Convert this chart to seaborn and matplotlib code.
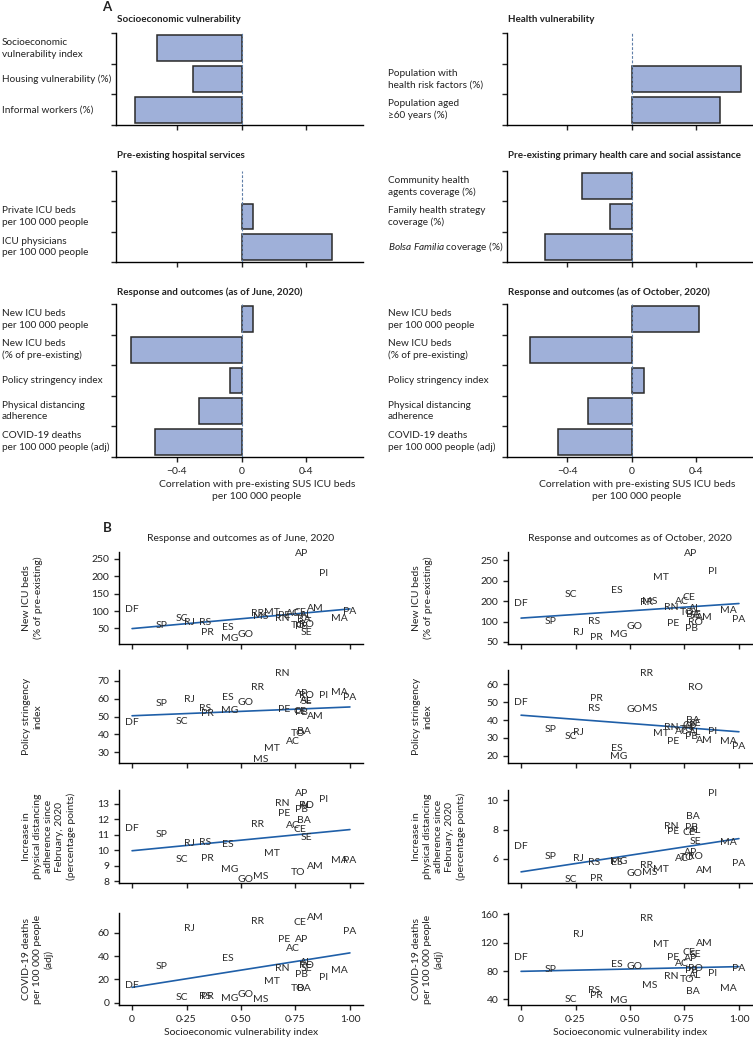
import numpy as np
import pandas as pd
import matplotlib
matplotlib.use("Agg")
import matplotlib.pyplot as plt
import matplotlib.transforms as mtransforms
import seaborn as sns

# ---------------- Panel A data ----------------
socio_labels = ["Socioeconomic\nvulnerability index", "Housing vulnerability (%)", "Informal workers (%)"]
socio_values = [-0.52, -0.30, -0.66]
health_labels = ["", "Population with\nhealth risk factors (%)", "Population aged\n≥60 years (%)"]
health_values = [np.nan, 0.68, 0.55]
hosp_labels = ["", "Private ICU beds\nper 100 000 people", "ICU physicians\nper 100 000 people"]
hosp_values = [np.nan, 0.07, 0.56]
phc_labels = ["Community health\nagents coverage (%)", "Family health strategy\ncoverage (%)",
              r"$\it{Bolsa\ Familia}$ coverage (%)"]
phc_values = [-0.31, -0.135, -0.54]
resp_labels = ["New ICU beds\nper 100 000 people", "New ICU beds\n(% of pre-existing)",
               "Policy stringency index", "Physical distancing\nadherence",
               "COVID-19 deaths\nper 100 000 people (adj)"]
june_values = [0.07, -0.68, -0.07, -0.265, -0.535]
oct_values = [0.42, -0.63, 0.08, -0.27, -0.455]
bar_xticks = [-0.4, 0.0, 0.4]
bar_xticklabels = ["\u22120·4", "0", "0·4"]

# ---------------- Panel B data ----------------
states = ["AC", "AL", "AM", "AP", "BA", "CE", "DF", "ES", "GO", "MA", "MG", "MS", "MT", "PA",
          "PB", "PE", "PI", "PR", "RJ", "RN", "RO", "RR", "RS", "SC", "SE", "SP", "TO"]
svi = [0.74, 0.80, 0.84, 0.78, 0.79, 0.77, 0.0, 0.44, 0.52, 0.95, 0.45, 0.59, 0.64, 1.0,
       0.78, 0.70, 0.88, 0.345, 0.265, 0.69, 0.80, 0.575, 0.335, 0.23, 0.80, 0.135, 0.76]
icu_june = [93, 88, 107, 266, 76, 95, 103, 52, 31, 78, 21, 83, 95, 98,
            54, 88, 208, 39, 66, 78, 62, 92, 67, 79, 38, 59, 59]
icu_oct = [150, 132, 110, 267, 116, 159, 143, 177, 87, 128, 69, 150, 207, 104,
           82, 94, 223, 62, 74, 135, 98, 147, 100, 166, 115, 100, 122]
strin_june = [36, 59.2, 50, 62.6, 41.7, 53, 46.8, 60.8, 57.7, 63.6, 53.2, 26.2, 32.3, 60.8,
              52, 54, 61.9, 51.7, 59.6, 74, 61.7, 66.4, 54.5, 47.4, 58.3, 57, 40.4]
strin_oct = [33.7, 32.8, 28.7, 36, 39.6, 36.9, 49.8, 23.9, 45.7, 27.8, 19.4, 46.3, 32.4, 25,
             30.6, 27.8, 33.5, 51.9, 32.8, 36.1, 58.3, 66.1, 46.7, 30.6, 38.3, 34.6, 34.6]
dist_june = [11.6, 12.93, 8.96, 13.67, 11.96, 11.33, 11.44, 10.38, 8.11, 9.33, 8.78, 8.33, 9.78, 9.33,
             12.67, 12.38, 13.27, 9.51, 10.44, 13.04, 12.93, 11.67, 10.49, 9.44, 10.84, 11.0, 8.56]
dist_oct = [6.0, 7.95, 5.22, 6.42, 8.87, 7.81, 6.87, 5.76, 4.99, 7.1, 5.84, 5.06, 5.29, 5.65,
            8.16, 7.88, 10.47, 4.64, 6.0, 8.24, 6.19, 5.53, 5.76, 4.59, 7.18, 6.16, 6.07]
death_june = [46.8, 34.8, 73.2, 53.9, 12.3, 69, 15.1, 37.6, 7.3, 27.8, 3.9, 2.5, 18.5, 60.9,
              24.1, 54.4, 21.6, 5.3, 63.4, 29.7, 32, 69.8, 5.3, 4.5, 29.2, 31.1, 12.3]
death_oct = [90.5, 73.6, 119.4, 97.4, 50.7, 105.7, 98.8, 89.2, 86, 55.7, 38.8, 59.8, 117.1, 83.7,
             81.4, 98.8, 75.9, 46.1, 131.8, 72.2, 83.7, 154.7, 53, 40.1, 103.4, 82.7, 68.5]

scatter_xticks = [0, 0.25, 0.5, 0.75, 1.0]
scatter_xticklabels = ["0", "0·25", "0·50", "0·75", "1·00"]
icu_yticks = [50, 100, 150, 200, 250]
icu_june_yticklabels = ["50", "100", "150", "200", "250"]
icu_oct_yticklabels = ["50", "100", "200", "200", "250"]
strin_june_yticks = [30, 40, 50, 60, 70]
strin_oct_yticks = [20, 30, 40, 50, 60]
dist_june_yticks = [8, 9, 10, 11, 12, 13]
dist_oct_yticks = [6, 8, 10]
death_june_yticks = [0, 20, 40, 60]
death_oct_yticks = [40, 80, 120, 160]

# ---------------- style ----------------
sns.set_theme(style="ticks")
plt.rcParams['font.family'] = ['Lato', 'DejaVu Sans']
plt.rcParams['mathtext.fontset'] = 'custom'
plt.rcParams['mathtext.rm'] = 'Lato'
plt.rcParams['mathtext.it'] = 'Lato:italic'
plt.rcParams['axes.edgecolor'] = 'black'
plt.rcParams['axes.linewidth'] = 1.0
plt.rcParams['xtick.major.width'] = 1.0
plt.rcParams['ytick.major.width'] = 1.0
plt.rcParams['xtick.major.size'] = 3.5
plt.rcParams['ytick.major.size'] = 3.5
plt.rcParams['xtick.color'] = '#222222'
plt.rcParams['ytick.color'] = '#222222'

FS = 7.5
FS_LAB = 7.2
FS_TITLE = 7.1
TXT = '#222222'
BAR = '#9fb0d9'
EDGE = '#2a2a2a'
ZERO = '#5f7fa8'
LINE = '#1f5fa8'

W, H = 753, 1042
fig = plt.figure(figsize=(W / 100, H / 100), dpi=100)
fig.patch.set_facecolor('white')


def add_ax(l, t, r, b):
    return fig.add_axes([l / W, 1 - b / H, (r - l) / W, (b - t) / H])


def bar_panel(ax, labels, values, title, label_x, title_y, show_xlabels):
    df = pd.DataFrame({"label": labels, "r": values}).dropna()
    sns.barplot(data=df, x="r", y="label", order=labels, orient="y", color=BAR,
                edgecolor=EDGE, linewidth=1.1, width=0.84, errorbar=None,
                saturation=1, ax=ax)
    n = len(labels)
    ax.set_ylim(n - 0.5, -0.5)
    ax.set_xlim(-0.775, 0.75)
    ax.set_yticks(np.arange(n + 1) - 0.5)
    ax.set_yticklabels([])
    ax.set_ylabel("")
    ax.set_xlabel("")
    ax.axvline(0, color=ZERO, lw=0.8, ls=(0, (2.5, 1.5)), zorder=5)
    ax.set_xticks(bar_xticks)
    if show_xlabels:
        ax.set_xticklabels(bar_xticklabels, fontsize=FS, color=TXT)
    else:
        ax.set_xticklabels([])
    sns.despine(ax=ax)
    trans = mtransforms.blended_transform_factory(fig.transFigure, ax.transData)
    for i, lab in enumerate(labels):
        if lab:
            ax.text(label_x / W, i, lab, transform=trans, ha='left', va='center',
                    fontsize=FS_LAB, color=TXT, linespacing=1.35)
    x0 = ax.get_position().x0
    fig.text(x0 + 1 / W, 1 - title_y / H, title, ha='left', va='center',
             fontsize=FS_TITLE, fontweight='bold', color=TXT)


colsA = [(116, 363), (507, 752)]
rowsA = [(33, 125), (171, 262), (304, 457)]
labx = [2, 388]
titles_y = [20, 156, 292]

panelsA = [
    (0, 0, socio_labels, socio_values, "Socioeconomic vulnerability"),
    (0, 1, health_labels, health_values, "Health vulnerability"),
    (1, 0, hosp_labels, hosp_values, "Pre-existing hospital services"),
    (1, 1, phc_labels, phc_values, "Pre-existing primary health care and social assistance"),
    (2, 0, resp_labels, june_values, "Response and outcomes (as of June, 2020)"),
    (2, 1, resp_labels, oct_values, "Response and outcomes (as of October, 2020)"),
]
for r, c, labs, vals, title in panelsA:
    ax = add_ax(colsA[c][0], rowsA[r][0], colsA[c][1], rowsA[r][1])
    bar_panel(ax, labs, vals, title, labx[c], titles_y[r], r == 2)

for cx in [257, 637]:
    fig.text(cx / W, 1 - 480 / H, "Correlation with pre-existing SUS ICU beds\nper 100 000 people",
             ha='center', va='top', fontsize=FS, color=TXT, linespacing=1.4)

fig.text(107 / W, 1 - 7 / H, "A", ha='center', va='center', fontsize=9.5, fontweight='bold', color=TXT)
fig.text(107 / W, 1 - 528 / H, "B", ha='center', va='center', fontsize=9.5, fontweight='bold', color=TXT)

# ---------------- Panel B ----------------
colsB = [(119, 363), (508, 752)]
rowsB = [(552, 644), (670, 763), (790, 883), (913, 1005)]
ylabx = [22, 412]

scat = [
    (0, 0, icu_june, (5, 270), icu_yticks, icu_june_yticklabels, "New ICU beds\n(% of pre-existing)"),
    (0, 1, icu_oct, (45, 270), icu_yticks, icu_oct_yticklabels, "New ICU beds\n(% of pre-existing)"),
    (1, 0, strin_june, (24, 76), strin_june_yticks, None, "Policy stringency\nindex"),
    (1, 1, strin_oct, (16, 68), strin_oct_yticks, None, "Policy stringency\nindex"),
    (2, 0, dist_june, (7.9, 13.9), dist_june_yticks, None,
     "Increase in\nphysical distancing\nadherence since\nFebruary, 2020\n(percentage points)"),
    (2, 1, dist_oct, (4.35, 10.7), dist_oct_yticks, None,
     "Increase in\nphysical distancing\nadherence since\nFebruary, 2020\n(percentage points)"),
    (3, 0, death_june, (-2, 77), death_june_yticks, None, "COVID-19 deaths\nper 100 000 people\n(adj)"),
    (3, 1, death_oct, (32, 162), death_oct_yticks, None, "COVID-19 deaths\nper 100 000 people\n(adj)"),
]
scatter_titles = ["Response and outcomes as of June, 2020", "Response and outcomes as of October, 2020"]

for r, c, yvals, ylim, yt, ytl, ylab in scat:
    ax = add_ax(colsB[c][0], rowsB[r][0], colsB[c][1], rowsB[r][1])
    df = pd.DataFrame({"state": states, "svi": svi, "y": yvals})
    sns.regplot(data=df, x="svi", y="y", scatter=False, ci=None, color=LINE,
                line_kws={"lw": 1.2}, ax=ax)
    for s, xv, yv in zip(df["state"], df["svi"], df["y"]):
        ax.text(xv, yv, s, ha='center', va='center', fontsize=FS, color='#2a2a2a')
    ax.set_xlim(-0.06, 1.06)
    ax.set_ylim(*ylim)
    ax.set_yticks(yt)
    ax.set_yticklabels(ytl if ytl is not None else [str(v) for v in yt], fontsize=FS, color=TXT)
    ax.set_xticks(scatter_xticks)
    if r == 3:
        ax.set_xticklabels(scatter_xticklabels, fontsize=FS, color=TXT)
        ax.set_xlabel("Socioeconomic vulnerability index", fontsize=FS, color=TXT, labelpad=3)
    else:
        ax.set_xticklabels([])
        ax.set_xlabel("")
    ax.set_ylabel("")
    sns.despine(ax=ax)
    pos = ax.get_position()
    fig.text(ylabx[c] / W, (pos.y0 + pos.y1) / 2, ylab, rotation=90, ha='left', va='center',
             multialignment='center', fontsize=FS, color=TXT, linespacing=1.3)
    if r == 0:
        ax.set_title(scatter_titles[c], fontsize=FS, color=TXT, pad=8)

fig.savefig("out.png", dpi=100, facecolor='white')
